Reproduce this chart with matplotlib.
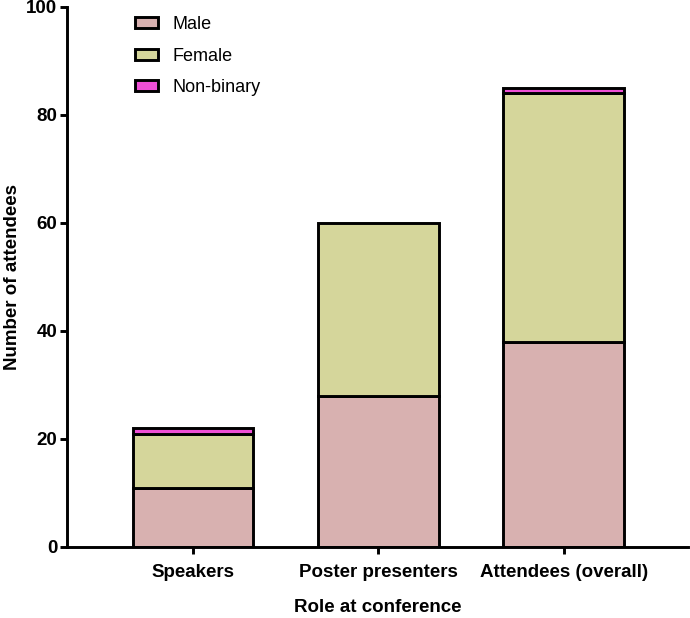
import numpy as np
import matplotlib.pyplot as plt

plt.rcParams["font.family"] = ["Liberation Sans", "DejaVu Sans"]

# Data
roles = ["Speakers", "Poster presenters", "Attendees (overall)"]
male = [11, 28, 38]
female = [10, 32, 46]
non_binary = [1, 0, 1]

series_names = ["Male", "Female", "Non-binary"]
colors = ["#d8b1b0", "#d5d69b", "#ef4fd6"]

fig = plt.figure(figsize=(6.9, 6.18), dpi=100)
ax = fig.add_axes([0.097, 0.115, 0.9, 0.874])

x = np.arange(len(roles))
width = 0.65
bottom = np.zeros(len(roles))
handles = []
for vals, name, col in zip([male, female, non_binary], series_names, colors):
    vals = np.array(vals, dtype=float)
    mask = vals > 0
    bars = ax.bar(x[mask], vals[mask], width, bottom=bottom[mask], color=col,
                  edgecolor="black", linewidth=2.1, label=name, zorder=2)
    bottom += vals
    handles.append(bars)

ax.set_xlim(-0.68, 2.67)
ax.set_ylim(0, 100)
ax.set_yticks([0, 20, 40, 60, 80, 100])
ax.set_xticks(x)
ax.set_xticklabels(roles)

for side in ["top", "right"]:
    ax.spines[side].set_visible(False)
for side in ["left", "bottom"]:
    ax.spines[side].set_linewidth(2.1)
ax.tick_params(axis="both", width=2.1, length=5, labelsize=13.5, pad=2)
for lbl in ax.get_xticklabels() + ax.get_yticklabels():
    lbl.set_fontweight("bold")
ax.tick_params(axis="x", pad=7)

ax.set_ylabel("Number of attendees", fontsize=13.5, fontweight="bold", labelpad=4)
ax.set_xlabel("Role at conference", fontsize=13.5, fontweight="bold", labelpad=13)

leg = fig.legend(handles=handles, labels=series_names, loc="upper left",
                 bbox_to_anchor=(0.172, 1.0), frameon=False, fontsize=13,
                 handlelength=1.3, handleheight=0.55, labelspacing=0.8,
                 handletextpad=0.8)

fig.savefig("out.png", dpi=100)
